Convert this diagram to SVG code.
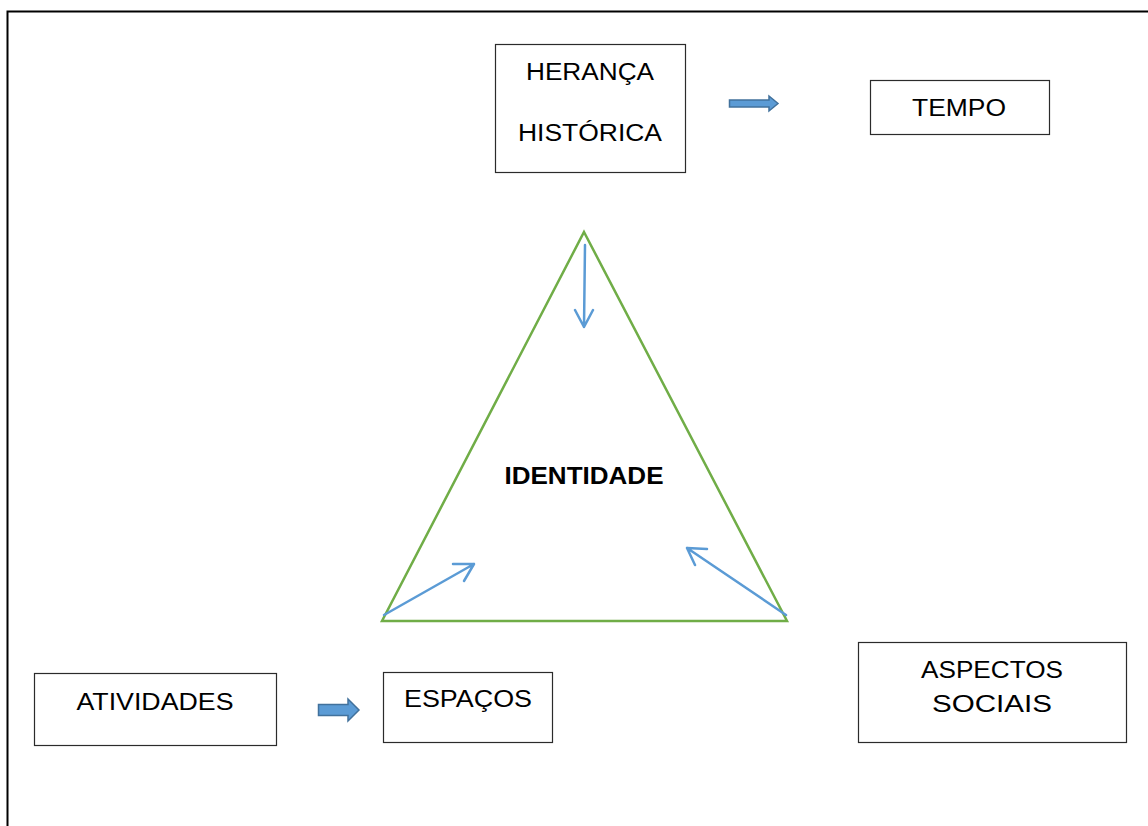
<svg xmlns="http://www.w3.org/2000/svg" width="1148" height="826" viewBox="0 0 1148 826">
<defs>
<style>
.box{fill:#fff;stroke:#2b2b2b;stroke-width:1.2}
.t{font-family:"Liberation Sans",Arial,sans-serif;font-size:24.5px;fill:#000;text-anchor:middle}
.b{font-weight:bold;font-size:23px}
.tri{fill:none;stroke:#70AD47;stroke-width:2.5;stroke-linejoin:miter}
.ln{fill:none;stroke:#5B9BD5;stroke-width:2.5;stroke-linecap:round;stroke-linejoin:round}
.blk{fill:#5B9BD5;stroke:#41719C;stroke-width:1.5}
</style>
</defs>
<rect width="1148" height="826" fill="#fff"/>
<path d="M7.5 826 V11.5 H1148" fill="none" stroke="#000" stroke-width="2"/>
<g id="node-heranca">
<rect class="box" x="495.5" y="44.5" width="190" height="128"/>
<text class="t" x="590" y="79.5" textLength="128" lengthAdjust="spacingAndGlyphs">HERANÇA</text>
<text class="t" x="590" y="140.5" textLength="144" lengthAdjust="spacingAndGlyphs">HISTÓRICA</text>
</g>
<g id="node-tempo">
<rect class="box" x="870.5" y="80.5" width="179" height="54"/>
<text class="t" x="959" y="116" textLength="94" lengthAdjust="spacingAndGlyphs">TEMPO</text>
</g>
<g id="node-identidade">
<path class="tri" d="M584 232 L787 621 L382 621 Z"/>
<text class="t b" x="584" y="484" textLength="159" lengthAdjust="spacingAndGlyphs">IDENTIDADE</text>
</g>
<g id="node-atividades">
<rect class="box" x="34.5" y="673.5" width="242" height="72"/>
<text class="t" x="155" y="710" textLength="157" lengthAdjust="spacingAndGlyphs">ATIVIDADES</text>
</g>
<g id="node-espacos">
<rect class="box" x="383.5" y="672.5" width="169" height="70"/>
<text class="t" x="468" y="707" textLength="128" lengthAdjust="spacingAndGlyphs">ESPAÇOS</text>
</g>
<g id="node-aspectos">
<rect class="box" x="858.5" y="642.5" width="268" height="100"/>
<text class="t" x="992" y="678" textLength="142" lengthAdjust="spacingAndGlyphs">ASPECTOS</text>
<text class="t" x="992" y="712" textLength="120" lengthAdjust="spacingAndGlyphs">SOCIAIS</text>
</g>
<g id="connectors">
<path class="blk" d="M729.5 100 H769 V96 L778 103.5 L769 111 V107 H729.5 Z"/>
<path class="blk" d="M318.5 704.5 H348 V699 L359 710 L348 721 V715.5 H318.5 Z"/>
<path class="ln" d="M585 245 L584 327 M575 310 L584 327 L593 310"/>
<path class="ln" d="M384 615 L474 564 M453 564 L474 564 L464 581"/>
<path class="ln" d="M786 615 L687 548 M707 549 L687 548 L695 565"/>
</g>
</svg>
